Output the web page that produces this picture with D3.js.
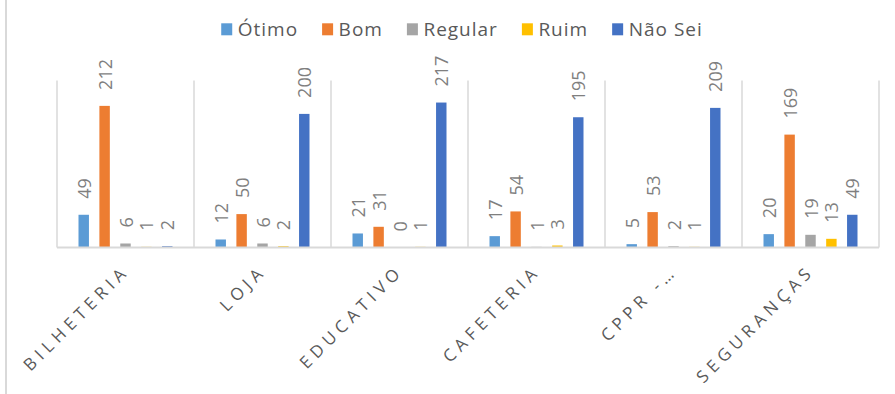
<!DOCTYPE html>
<html>
<head>
<meta charset="utf-8">
<script src="https://cdn.jsdelivr.net/npm/d3@7"></script>
<style>
  html, body { margin: 0; padding: 0; background: #fff; }
  svg { display: block; }
  text { font-family: "Open Sans", "Noto Sans", sans-serif; }
</style>
</head>
<body>
<svg id="chart" width="895" height="394"></svg>
<script>
const categories = ["BILHETERIA", "LOJA", "EDUCATIVO", "CAFETERIA", "CPPR -…", "SEGURANÇAS"];
const seriesNames = ["Ótimo", "Bom", "Regular", "Ruim", "Não Sei"];
const otimo   = [49, 12, 21, 17, 5, 20];
const bom     = [212, 50, 31, 54, 53, 169];
const regular = [6, 6, 0, 1, 2, 19];
const ruim    = [1, 2, 1, 3, 1, 13];
const naoSei  = [2, 200, 217, 195, 209, 49];
const colors  = ["#5B9BD5", "#ED7D31", "#A5A5A5", "#FFC000", "#4472C4"];
const yMax = 250;

const seriesValues = [otimo, bom, regular, ruim, naoSei];
const data = categories.map((c, i) => ({
  cat: c,
  vals: seriesNames.map((s, j) => ({ s, j, v: seriesValues[j][i] }))
}));

const svg = d3.select("#chart");
const plot = { left: 57, right: 879, top: 80.5, bottom: 247.5 };

const x0 = d3.scaleBand().domain(categories).range([plot.left, plot.right]).padding(0);
const x1 = d3.scaleBand().domain(seriesNames)
  .range([21.5, x0.bandwidth() - 21.5]).paddingInner(0.5).paddingOuter(0);
const y = d3.scaleLinear().domain([0, yMax]).range([plot.bottom, plot.top]);

// outer chart border (left edge visible)
svg.append("line").attr("x1", 6).attr("x2", 6).attr("y1", 0).attr("y2", 394)
  .attr("stroke", "#D9D9D9").attr("stroke-width", 2);

// category separator lines
const bounds = categories.map(c => x0(c)).concat([plot.right]);
svg.append("g").selectAll("line").data(bounds).join("line")
  .attr("x1", d => d).attr("x2", d => d)
  .attr("y1", y(yMax)).attr("y2", y(0))
  .attr("stroke", "#D9D9D9").attr("stroke-width", 1.5);

// bars
const groups = svg.append("g").selectAll("g").data(data).join("g")
  .attr("transform", d => `translate(${x0(d.cat)},0)`);

groups.selectAll("rect").data(d => d.vals).join("rect")
  .attr("x", d => x1(d.s))
  .attr("width", x1.bandwidth())
  .attr("y", d => y(d.v))
  .attr("height", d => y(0) - y(d.v))
  .attr("fill", d => colors[d.j]);

// baseline (drawn over bar bottoms)
svg.append("line").attr("x1", plot.left).attr("x2", plot.right)
  .attr("y1", y(0)).attr("y2", y(0))
  .attr("stroke", "#D9D9D9").attr("stroke-width", 2);

// data labels
groups.selectAll("text").data(d => d.vals).join("text")
  .attr("transform", d => `translate(${x1(d.s) + x1.bandwidth() / 2 + 7},${y(d.v) - 16}) rotate(-90)`)
  .attr("text-anchor", "start")
  .attr("font-size", 18)
  .attr("fill", "#7F7F7F")
  .text(d => d.v);

// category labels
const ls = 5;
svg.append("g").selectAll("text").data(categories).join("text")
  .attr("transform", c => `translate(${x0(c) + x0.bandwidth() / 2 + 5},272) rotate(-45)`)
  .attr("text-anchor", "end")
  .attr("font-size", 17)
  .attr("letter-spacing", ls)
  .attr("fill", "#595959")
  .text(c => c);

// legend
const legend = svg.append("g");
const items = legend.selectAll("g").data(seriesNames).join("g");
items.append("rect").attr("x", 0).attr("y", 23.3).attr("width", 11).attr("height", 12)
  .attr("fill", (d, i) => colors[i]);
items.append("text").attr("x", 16.5).attr("y", 35.5)
  .attr("font-size", 19).attr("letter-spacing", 1)
  .attr("fill", "#595959").text(d => d);
let xpos = 0;
const gap = 24;
items.each(function () {
  const g = d3.select(this);
  g.attr("transform", `translate(${xpos},0)`);
  const w = 16.5 + g.select("text").node().getComputedTextLength();
  xpos += w + gap;
});
const totalW = xpos - gap;
legend.attr("transform", `translate(${462 - totalW / 2},0)`);
</script>
</body>
</html>
